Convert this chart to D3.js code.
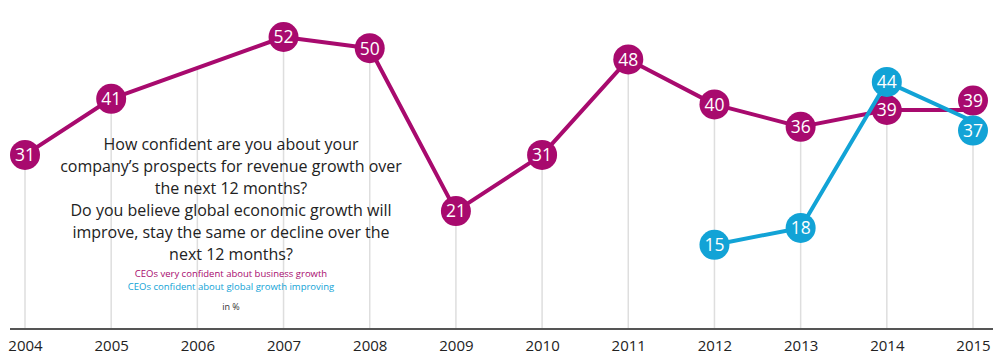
<!DOCTYPE html>
<html>
<head>
<meta charset="utf-8">
<script src="https://cdn.jsdelivr.net/npm/d3@7"></script>
<style>
  html, body { margin: 0; padding: 0; background: #fff; }
  svg { display: block; }
  text { font-family: "Open Sans", "Noto Sans", sans-serif; }
</style>
</head>
<body>
<svg id="chart" width="1000" height="357"></svg>
<script>
// ---- data ----
const years = [2004, 2005, 2006, 2007, 2008, 2009, 2010, 2011, 2012, 2013, 2014, 2015];
const businessYears = [2004, 2005, 2007, 2008, 2009, 2010, 2011, 2012, 2013, 2014, 2015];
const businessValues = [31, 41, 52, 50, 21, 31, 48, 40, 36, 39, 39];
const globalYears = [2012, 2013, 2014, 2015];
const globalValues = [15, 18, 44, 37];
const questionLines = [
  "How confident are you about your",
  "company\u2019s prospects for revenue growth over",
  "the next 12 months?",
  "Do you believe global economic growth will",
  "improve, stay the same or decline over the",
  "next 12 months?"
];
const legendLabels = ["CEOs very confident about business growth", "CEOs confident about global growth improving"];
const unitLabel = "in %";

// ---- styles ----
const purple = "#a80a6e";
const cyan = "#12a3d6";
const R = 15;

const svg = d3.select("#chart");
const x = d3.scaleLinear().domain([2004, 2015]).range([25, 973]);
const y = d3.scaleLinear().domain([0, 52]).range([329, 37]);

const business = businessYears.map((yr, i) => ({ year: yr, value: businessValues[i], series: 0 }));
const global = globalYears.map((yr, i) => ({ year: yr, value: globalValues[i], series: 1 }));

// pixel positions; circles (not lines) are dodged when they nearly coincide in a year
const all = business.concat(global);
all.forEach(d => { d.px = x(d.year); d.ly = y(d.value); d.py = d.ly; });
d3.group(all, d => d.year).forEach(group => {
  if (group.length === 2) {
    const [a, b] = group;
    if (Math.abs(a.py - b.py) < R) {
      const mid = (a.py + b.py) / 2;
      const up = a.value >= b.value ? a : b;
      const down = up === a ? b : a;
      up.py = mid - R;
      down.py = mid + R;
    }
  }
});

// gridlines: from topmost point (or line height) down to axis
const lineInterp = yr => {
  const i = d3.bisectLeft(businessYears, yr);
  const a = business[i - 1], b = business[i];
  const t = (yr - a.year) / (b.year - a.year);
  return a.ly + (b.ly - a.ly) * t;
};
const gridG = svg.append("g");
years.forEach(yr => {
  const pts = all.filter(d => d.year === yr);
  const top = pts.length ? d3.min(pts, d => d.py) : lineInterp(yr);
  gridG.append("line")
    .attr("x1", x(yr)).attr("x2", x(yr))
    .attr("y1", top).attr("y2", y(0))
    .attr("stroke", "#dedede").attr("stroke-width", 1.5);
});

// question text
const qG = svg.append("g").attr("text-anchor", "middle");
questionLines.forEach((t, i) => {
  qG.append("text")
    .attr("x", 231).attr("y", 150 + i * 22)
    .attr("font-size", 16).attr("fill", "#222")
    .text(t);
});
qG.append("text").attr("x", 231).attr("y", 277).attr("font-size", 9.5).attr("fill", purple).text(legendLabels[0]);
qG.append("text").attr("x", 231).attr("y", 290).attr("font-size", 9.5).attr("fill", cyan).text(legendLabels[1]);
qG.append("text").attr("x", 231).attr("y", 310).attr("font-size", 9).attr("fill", "#333").text(unitLabel);

// x axis
const axis = d3.axisBottom(x).tickValues(years).tickFormat(d3.format("d")).tickSize(0).tickPadding(11);
const axG = svg.append("g").attr("transform", `translate(0,${y(0)})`).call(axis);
axG.select(".domain").remove();
axG.append("line").attr("x1", 10).attr("x2", 993).attr("y1", 0).attr("y2", 0)
  .attr("stroke", "#555").attr("stroke-width", 2);
axG.selectAll(".tick text").attr("font-size", 15).attr("fill", "#222")
  .attr("font-family", "'Open Sans', sans-serif");

const line = d3.line().x(d => d.px).y(d => d.ly);

function drawSeries(data, color) {
  svg.append("path").datum(data).attr("d", line)
    .attr("fill", "none").attr("stroke", color).attr("stroke-width", 4)
    .attr("stroke-linejoin", "round");
  const g = svg.append("g").selectAll("g").data(data).join("g")
    .attr("transform", d => `translate(${d.px},${d.py})`);
  g.append("circle").attr("r", R).attr("fill", color);
  g.append("text").attr("text-anchor", "middle").attr("dy", "0.36em")
    .attr("font-size", 17.5).attr("fill", "#fff").text(d => d.value);
}
drawSeries(business, purple);
drawSeries(global, cyan);
</script>
</body>
</html>
